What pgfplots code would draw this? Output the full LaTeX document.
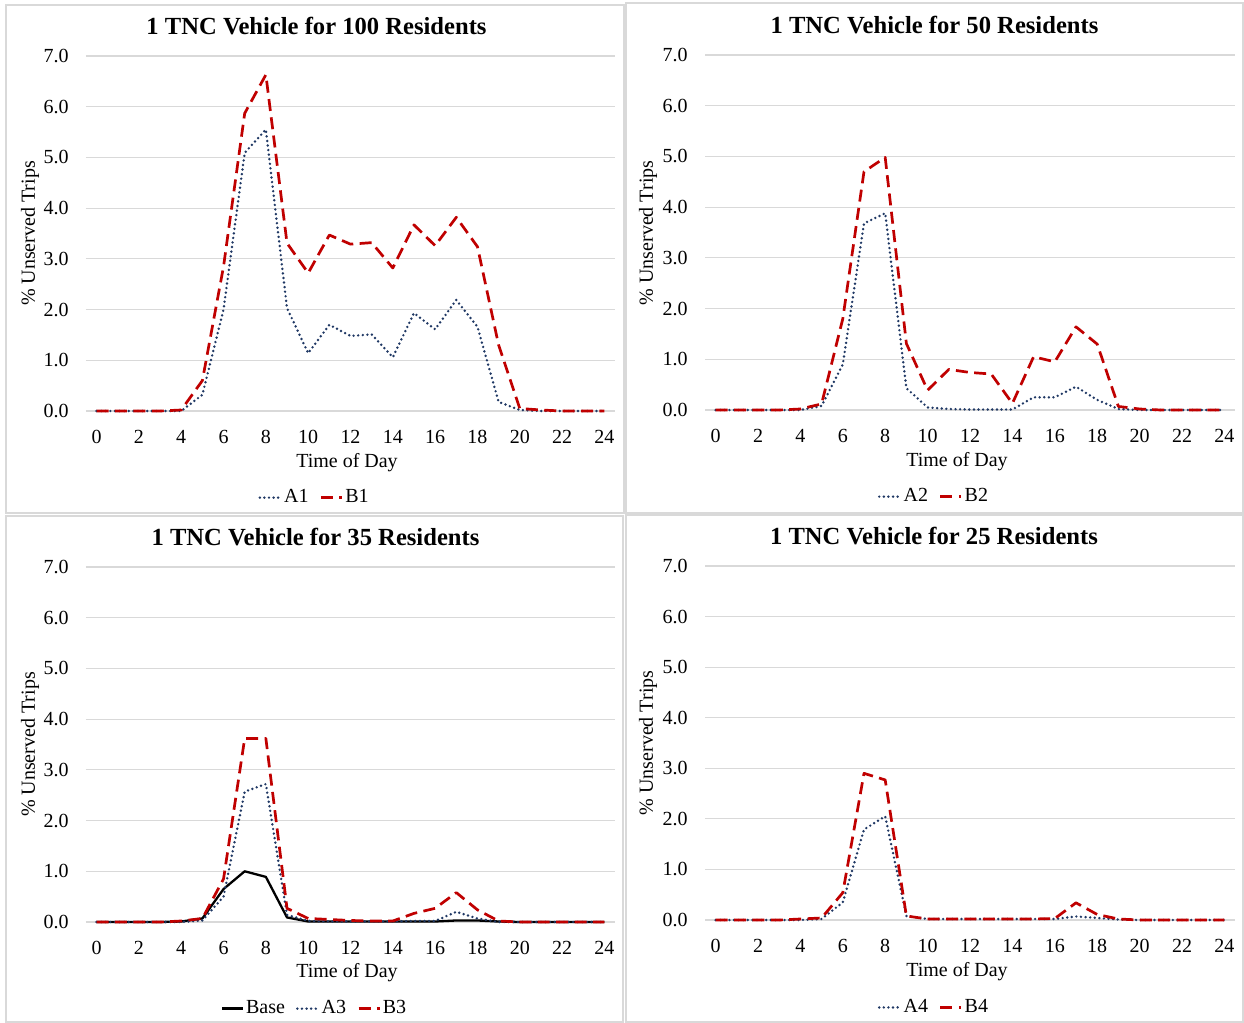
\documentclass[border=0pt]{standalone}
\usepackage{fontspec}
\setmainfont{Liberation Serif}
\usepackage{pgfplots}
\pgfplotsset{compat=1.18}

\definecolor{navyA}{HTML}{1F3864}
\definecolor{redB}{HTML}{C00000}
\definecolor{gridc}{HTML}{D9D9D9}

\pgfplotsset{
  tnc/.style={
    scale only axis, anchor=south west,
    xmin=-0.5, xmax=24.5, ymin=0, ymax=7,
    axis line style={draw=none},
    xtick={0,2,...,24}, ytick={0,1,...,7},
    major tick length=0pt,
    ymajorgrids, grid style={gridc, line width=0.6pt},
    /pgf/number format/assume math mode=true,
    y tick label style={/pgf/number format/fixed, /pgf/number format/fixed zerofill, /pgf/number format/precision=1},
    ticklabel style={font=\fontsize{10}{12}\selectfont},
    yticklabel style={xshift=-5.2pt},
    xticklabel style={yshift=-6.3pt},
    clip=false,
    legend style={draw=none, fill=none, legend columns=-1,
      font=\fontsize{10}{12}\selectfont, at={(0.432,-0.244)}, anchor=center,
      nodes={inner sep=1pt},
      /tikz/every even column/.append style={column sep=4.5pt}},
    legend image code/.code={\draw[##1] (0pt,0pt) -- (10.5pt,0pt);},
  },
  Aser/.style={navyA, line width=1.35pt, line cap=round, line join=round, dash pattern=on 0pt off 2.3pt},
  Bser/.style={redB, line width=1.35pt, line join=round, dash pattern=on 6pt off 3.2pt},
  Bline/.style={black, line width=1.15pt, line join=round},
}

\newcommand\ttl[1]{\fontsize{12.3}{14}\selectfont\bfseries #1}
\tikzset{lab/.style={font=\fontsize{10}{12}\selectfont}}

\begin{document}
\begin{tikzpicture}
\useasboundingbox (0,0) rectangle (622pt,-511.5pt);
\fill[white] (0,0) rectangle (622pt,-511.5pt);
\draw[gridc, line width=0.7pt] (3pt,-2.5pt) rectangle (312pt,-256.5pt);
\draw[gridc, line width=0.7pt] (313pt,-1.5pt) rectangle (621.5pt,-256.5pt);
\draw[gridc, line width=0.7pt] (3pt,-258pt) rectangle (311.5pt,-511pt);
\draw[gridc, line width=0.7pt] (313pt,-257.5pt) rectangle (621.5pt,-511pt);

% panel 1
\begin{axis}[tnc, at={(43pt,-205.5pt)}, width=264.5pt, height=177.5pt]
\addplot[Aser] coordinates {(0,0) (1,0) (2,0) (3,0) (4,0) (5,0.32) (6,2.0) (7,5.09) (8,5.55) (9,2.03) (10,1.14) (11,1.70) (12,1.48) (13,1.51) (14,1.06) (15,1.93) (16,1.61) (17,2.19) (18,1.66) (19,0.18) (20,0.02) (21,0) (22,0) (23,0) (24,0)};
\addplot[Bser] coordinates {(0,0) (1,0) (2,0) (3,0) (4,0.02) (5,0.6) (6,2.85) (7,5.87) (8,6.63) (9,3.31) (10,2.72) (11,3.47) (12,3.29) (13,3.32) (14,2.82) (15,3.67) (16,3.26) (17,3.82) (18,3.24) (19,1.3) (20,0.05) (21,0.02) (22,0) (23,0) (24,0)};
\legend{A1,B1}
\end{axis}

% panel 2
\begin{axis}[tnc, at={(352.5pt,-205pt)}, width=265pt, height=177.5pt]
\addplot[Aser] coordinates {(0,0) (1,0) (2,0) (3,0) (4,0) (5,0.08) (6,0.9) (7,3.68) (8,3.88) (9,0.43) (10,0.05) (11,0.02) (12,0.01) (13,0.01) (14,0.01) (15,0.25) (16,0.25) (17,0.46) (18,0.2) (19,0.02) (20,0) (21,0) (22,0) (23,0) (24,0)};
\addplot[Bser] coordinates {(0,0) (1,0) (2,0) (3,0) (4,0.02) (5,0.12) (6,1.8) (7,4.70) (8,4.98) (9,1.31) (10,0.39) (11,0.80) (12,0.74) (13,0.71) (14,0.13) (15,1.05) (16,0.95) (17,1.64) (18,1.30) (19,0.07) (20,0.02) (21,0) (22,0) (23,0) (24,0)};
\legend{A2,B2}
\end{axis}

% panel 3
\begin{axis}[tnc, at={(43pt,-461pt)}, width=264.5pt, height=177.5pt]
\addplot[Bline] coordinates {(0,0) (1,0) (2,0) (3,0) (4,0.01) (5,0.07) (6,0.65) (7,1.0) (8,0.89) (9,0.09) (10,0.01) (11,0.01) (12,0.01) (13,0.01) (14,0.01) (15,0.01) (16,0.01) (17,0.03) (18,0.03) (19,0.01) (20,0) (21,0) (22,0) (23,0) (24,0)};
\addplot[Aser] coordinates {(0,0) (1,0) (2,0) (3,0) (4,0) (5,0.03) (6,0.5) (7,2.57) (8,2.72) (9,0.14) (10,0.02) (11,0.01) (12,0.01) (13,0.01) (14,0.01) (15,0.02) (16,0.02) (17,0.2) (18,0.07) (19,0) (20,0) (21,0) (22,0) (23,0) (24,0)};
\addplot[Bser] coordinates {(0,0) (1,0) (2,0) (3,0) (4,0.02) (5,0.07) (6,0.85) (7,3.62) (8,3.62) (9,0.27) (10,0.07) (11,0.05) (12,0.03) (13,0.02) (14,0.02) (15,0.17) (16,0.27) (17,0.58) (18,0.24) (19,0.02) (20,0) (21,0) (22,0) (23,0) (24,0)};
\legend{Base,A3,B3}
\end{axis}

% panel 4
\begin{axis}[tnc, at={(352.5pt,-460pt)}, width=265pt, height=177pt,
  legend style={at={(0.432,-0.247)}}]
\addplot[Aser] coordinates {(0,0) (1,0) (2,0) (3,0) (4,0) (5,0.02) (6,0.35) (7,1.79) (8,2.05) (9,0.08) (10,0.02) (11,0.02) (12,0.02) (13,0.02) (14,0.02) (15,0.02) (16,0.02) (17,0.07) (18,0.04) (19,0.01) (20,0) (21,0) (22,0) (23,0) (24,0)};
\addplot[Bser] coordinates {(0,0) (1,0) (2,0) (3,0) (4,0.02) (5,0.04) (6,0.54) (7,2.9) (8,2.77) (9,0.08) (10,0.02) (11,0.02) (12,0.02) (13,0.02) (14,0.02) (15,0.02) (16,0.03) (17,0.34) (18,0.11) (19,0.02) (20,0) (21,0) (22,0) (23,0) (24,0)};
\legend{A4,B4}
\end{axis}

% titles and axis labels
\node at (158.25pt,-13pt) {\ttl{1 TNC Vehicle for 100 Residents}};
\node at (467.25pt,-12.5pt) {\ttl{1 TNC Vehicle for 50 Residents}};
\node at (157.75pt,-268.5pt) {\ttl{1 TNC Vehicle for 35 Residents}};
\node at (467pt,-268pt) {\ttl{1 TNC Vehicle for 25 Residents}};

\node[lab, rotate=90] at (15pt,-116.75pt) {\% Unserved Trips};
\node[lab, rotate=90] at (324pt,-116.5pt) {\% Unserved Trips};
\node[lab, rotate=90] at (15pt,-372.25pt) {\% Unserved Trips};
\node[lab, rotate=90] at (324pt,-371.5pt) {\% Unserved Trips};

\node[lab] at (173.5pt,-231.5pt) {Time of Day};
\node[lab] at (478.5pt,-231pt) {Time of Day};
\node[lab] at (173.5pt,-486.5pt) {Time of Day};
\node[lab] at (478.5pt,-486pt) {Time of Day};
\end{tikzpicture}
\end{document}
